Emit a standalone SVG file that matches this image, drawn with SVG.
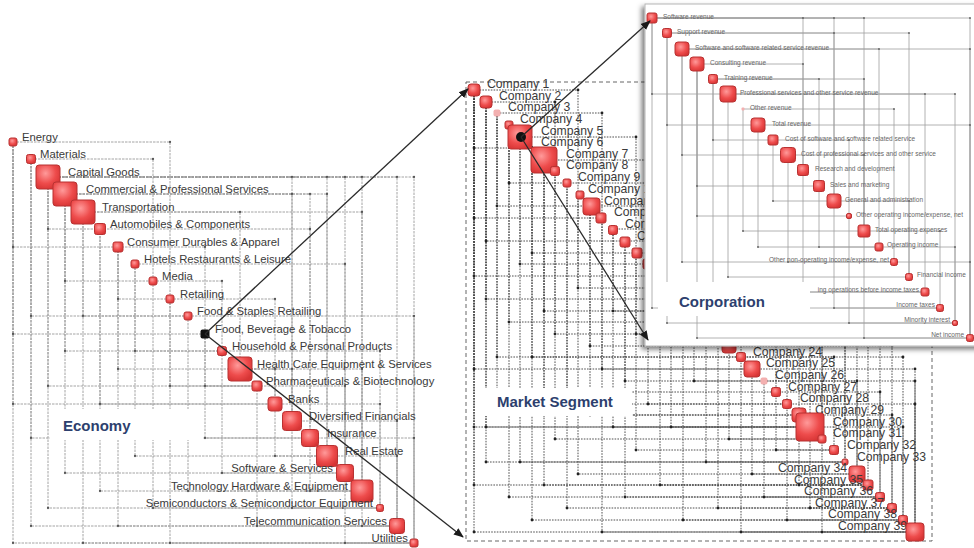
<svg xmlns="http://www.w3.org/2000/svg" width="974" height="548" viewBox="0 0 974 548">
<defs>
<style>
text{font-family:"Liberation Sans",Arial,sans-serif}
.le{font-size:11.3px;fill:#3a3a3a}
.me{font-size:12.2px;fill:#3a3a3a}
.re{font-size:6.5px;fill:#666}
.ttl{font-size:15px;font-weight:bold;fill:#2d3f6e}
.end{text-anchor:end}
.n{fill:url(#rg);stroke:#b83232;stroke-width:1}
.p{fill:#f3b0b0;stroke:none}
.gl{fill:none;stroke:#9a9a9a;stroke-width:0.9;stroke-dasharray:2.5 1;marker-start:url(#d1);marker-mid:url(#d1);marker-end:url(#d1)}
.gm{fill:none;stroke:#3c3c3c;stroke-width:0.9;stroke-dasharray:1.6 1.2;marker-start:url(#d2);marker-mid:url(#d2);marker-end:url(#d2)}
.gr{fill:none;stroke:#a0a0a0;stroke-width:0.8;marker-start:url(#d3);marker-mid:url(#d3);marker-end:url(#d3)}
.ar{fill:none;stroke:#2a2a2a;stroke-width:1.3;marker-end:url(#ah)}
</style>
<radialGradient id="rg" cx="40%" cy="35%" r="70%">
<stop offset="0" stop-color="#ff9a9a"/>
<stop offset="0.6" stop-color="#ee4c4c"/>
<stop offset="1" stop-color="#d63434"/>
</radialGradient>
<marker id="d1" viewBox="-2 -2 4 4" markerWidth="3.5" markerHeight="3.5" markerUnits="userSpaceOnUse"><circle r="1.3" fill="#555"/></marker>
<marker id="d2" viewBox="-2 -2 4 4" markerWidth="4" markerHeight="4" markerUnits="userSpaceOnUse"><circle r="1.4" fill="#222"/></marker>
<marker id="d3" viewBox="-2 -2 4 4" markerWidth="3" markerHeight="3" markerUnits="userSpaceOnUse"><circle r="1.3" fill="#666"/></marker>
<marker id="ah" viewBox="0 0 10 10" refX="9" refY="5" markerWidth="10" markerHeight="10" markerUnits="userSpaceOnUse" orient="auto"><path d="M0,1 L10,5 L0,9 z" fill="#1a1a1a"/></marker>
<filter id="sh" x="-10%" y="-10%" width="125%" height="125%"><feDropShadow dx="-3" dy="3" stdDeviation="2.5" flood-color="#000" flood-opacity="0.5"/></filter>
</defs>
<rect width="974" height="548" fill="#fff"/>

<!-- ECONOMY PANEL -->
<g id="economy-grid">
<path class="gl" d="M13 142H170V299M31 159H153V281M48 177H292V421M48 177H327V456M48 177H345V473M48 177H362V491M48 177H397V526M48 177H414V543M65 194H292V421M65 194H310V438M65 194H327V456M83 212H240V369M83 212H362V491M100 229H310V438M135 264H345V473M153 281H222V351M188 316H414V543M222 351H380V508M240 369H275V404M240 369H292V421M240 369H362V491M275 404H380V508M292 421H397V526M310 438H414V543M327 456H397V526M257 386H345V473M118 247H205V334M170 299H275V404"/>
<path class="gl" d="M13 142V543H414M13 142V247H118M13 142V334H205M13 142V404H275M31 159V526H397M31 159V316H188M31 159V438H310M48 177V229H100M48 177V386H257M48 177V508H380M65 194V473H345M65 194V351H222M83 212V316H188M83 212V543H414M100 229V491H362M100 229V404H275M118 247V526H397M118 247V369H240M135 264V456H327M153 281V508H380M170 299V386H257M170 299V543H414M188 316V491H362M205 334V438H310M222 351V473H345M257 386V526H397M275 404V456H327M292 421V508H380M345 473V543H414M362 491V526H397M310 438V491H362M205 334V386H257M118 247V299H170M65 194V281H153M135 264V351H222"/>
</g>
<g id="economy-label">
<rect x="50" y="409" width="153" height="31" fill="#fff"/>
<text class="ttl" x="63" y="431">Economy</text>
</g>
<g id="e0"><text class="le" x="22" y="141">Energy</text><rect class="n" x="9" y="138" width="8" height="8" rx="2"/></g>
<g id="e1"><text class="le" x="40" y="158">Materials</text><rect class="n" x="26.5" y="154.5" width="9" height="9" rx="2"/></g>
<g id="e2"><text class="le" x="68" y="176">Capital Goods</text><rect class="n" x="36" y="165" width="24" height="24" rx="3"/></g>
<g id="e3"><text class="le" x="86" y="193">Commercial &amp; Professional Services</text><rect class="n" x="53" y="182" width="24" height="24" rx="3"/></g>
<g id="e4"><text class="le" x="102" y="211">Transportation</text><rect class="n" x="71" y="200" width="24" height="24" rx="3"/></g>
<g id="e5"><text class="le" x="110" y="228">Automobiles &amp; Components</text><rect class="n" x="94.5" y="223.5" width="11" height="11" rx="2"/></g>
<g id="e6"><text class="le" x="127" y="246">Consumer Durables &amp; Apparel</text><rect class="n" x="113" y="242" width="10" height="10" rx="2"/></g>
<g id="e7"><text class="le" x="144" y="263">Hotels Restaurants &amp; Leisure</text><rect class="n" x="131" y="260" width="8" height="8" rx="2"/></g>
<g id="e8"><text class="le" x="162" y="280">Media</text><rect class="n" x="149" y="277" width="8" height="8" rx="2"/></g>
<g id="e9"><text class="le" x="180" y="298">Retailing</text><rect class="n" x="166" y="295" width="8" height="8" rx="2"/></g>
<g id="e10"><text class="le" x="197" y="315">Food &amp; Staples Retailing</text><rect class="n" x="184" y="312" width="8" height="8" rx="2"/></g>
<g id="e11"><text class="le" x="215" y="333">Food, Beverage &amp; Tobacco</text><rect x="200.5" y="329.5" width="9" height="9" rx="2" fill="#111"/></g>
<g id="e12"><text class="le" x="232" y="350">Household &amp; Personal Products</text><rect class="n" x="217.5" y="346.5" width="9" height="9" rx="2"/></g>
<g id="e13"><text class="le" x="257" y="368">Health Care Equipment &amp; Services</text><rect class="n" x="228" y="357" width="24" height="24" rx="3"/></g>
<g id="e14"><text class="le" x="266" y="385">Pharmaceuticals &amp; Biotechnology</text><rect class="n" x="252" y="381" width="10" height="10" rx="2"/></g>
<g id="e15"><text class="le" x="288" y="403">Banks</text><rect class="n" x="268" y="397" width="14" height="14" rx="3"/></g>
<g id="e16"><text class="le" x="309" y="420">Diversified Financials</text><rect class="n" x="282.5" y="411.5" width="19" height="19" rx="3"/></g>
<g id="e17"><text class="le" x="327" y="437">Insurance</text><rect class="n" x="301.5" y="429.5" width="17" height="17" rx="3"/></g>
<g id="e18"><text class="le" x="345" y="455">Real Estate</text><rect class="n" x="316.5" y="445.5" width="21" height="21" rx="3"/></g>
<g id="e19"><text class="le end" x="333" y="472">Software &amp; Services</text><rect class="n" x="336.5" y="464.5" width="17" height="17" rx="3"/></g>
<g id="e20"><text class="le end" x="348" y="490">Technology Hardware &amp; Equipment</text><rect class="n" x="351" y="480" width="22" height="22" rx="3"/></g>
<g id="e21"><text class="le end" x="373" y="507">Semiconductors &amp; Semiconductor Equipment</text><rect class="n" x="376.5" y="504.5" width="7" height="7" rx="2"/></g>
<g id="e22"><text class="le end" x="387" y="525">Telecommunication Services</text><rect class="n" x="389.5" y="518.5" width="15" height="15" rx="3"/></g>
<g id="e23"><text class="le end" x="408" y="542">Utilities</text><rect class="n" x="410" y="539" width="8" height="8" rx="2"/></g>

<!-- MARKET SEGMENT PANEL -->
<g id="market-frame"><rect x="466" y="82" width="466" height="459" fill="none" stroke="#666" stroke-width="1" stroke-dasharray="4 3"/></g>
<g id="market-grid">
<path class="gm" d="M474 90V532H915M474 90V276H660M474 90V369H752M486 102V427H810M486 102V299H683M497 113V404H787M509 125V497H880M509 125V322H706M520 137V462H845M520 137V264H648M532 148V357H741M532 148V520H903M544 160V311H694M544 160V485H868M555 171V334H718M555 171V439H822M567 183V392H776M567 183V508H892M578 195V288H671M578 195V474H857M590 206V346H729M590 206V415H799M602 218V369H752M602 218V532H915M613 229V427H810M613 229V311H694M625 241V381H764M625 241V497H880M636 253V450H834M636 253V334H718M648 264V404H787M660 276V485H868M671 288V427H810M683 299V520H903M694 311V381H764M706 322V462H845M718 334V508H892M729 346V439H822M741 357V532H915M752 369V474H857M764 381V497H880M776 392V450H834M787 404V520H903M799 415V485H868M810 427V508H892M822 439V532H915M486 102V241H625M497 113V206H590M509 125V183H567M474 90V148H532M532 148V253H636M474 90V218H602M497 113V357H741M544 160V415H799M474 90V427H810M474 90V485H868M486 102V462H845"/>
<path class="gm" d="M474 90H578V195M486 102H555V171M497 113H602V218M520 137H636V253M544 160H671V288M567 183H694V311M590 206H741V357M613 229H776V392M648 264H799V415M683 299H845V462M694 311H868V485M718 334H880V497M729 346H892V508M741 357H903V520M752 369H915V532M764 381H857V474M776 392H880V497M706 322H822V439M787 404H915V532M799 415H892V508M810 427H903V520M660 276H810V427M671 288H857V474M625 241H787V404M636 253H822V439M729 346H845V462M741 357H834V450M764 381H915V532"/>
</g>
<g id="market-label">
<rect x="480" y="388" width="152" height="28" fill="#fff"/>
<text class="ttl" x="497" y="407">Market Segment</text>
</g>
<g id="c1"><text class="me" x="487" y="88">Company 1</text><rect class="n" x="468" y="84" width="12" height="12" rx="3"/></g>
<g id="c2"><text class="me" x="499" y="100">Company 2</text><rect class="n" x="480" y="96" width="12" height="12" rx="3"/></g>
<g id="c3"><text class="me" x="508" y="111">Company 3</text><rect class="p" x="493.5" y="109.5" width="7" height="7" rx="2"/></g>
<g id="c4"><text class="me" x="520" y="123">Company 4</text><rect class="n" x="505" y="121" width="8" height="8" rx="2"/></g>
<g id="c6"><text class="me" x="541" y="146">Company 6</text></g>
<g id="c5"><text class="me" x="541" y="135">Company 5</text><rect class="n" x="508" y="125" width="24" height="24" rx="3"/></g>
<g id="c7"><text class="me" x="566" y="158">Company 7</text><rect class="n" x="531" y="147" width="26" height="26" rx="3"/></g>
<g id="c8"><text class="me" x="566" y="169">Company 8</text><rect class="n" x="550.5" y="166.5" width="9" height="9" rx="2"/></g>
<g id="c9"><text class="me" x="578" y="181">Company 9</text><rect class="n" x="563" y="179" width="8" height="8" rx="2"/></g>
<g id="c10"><text class="me" x="588" y="193">Company 10</text><rect class="n" x="576" y="191" width="8" height="8" rx="2"/></g>
<g id="c11"><text class="me" x="604" y="205">Company 11</text><rect class="n" x="583" y="198" width="17" height="17" rx="3"/></g>
<g id="c12"><text class="me" x="614" y="216">Company 12</text><rect class="n" x="596" y="213" width="10" height="10" rx="2"/></g>
<g id="c13"><text class="me" x="625" y="228">Company 13</text><rect class="n" x="608.5" y="225.5" width="9" height="9" rx="2"/></g>
<g id="c14"><text class="me" x="637" y="240">Company 14</text><rect class="n" x="620" y="237" width="10" height="10" rx="2"/></g>
<g id="c15"><rect class="n" x="632" y="248" width="10" height="10" rx="2"/></g>
<g id="c16"><rect class="n" x="643" y="259" width="10" height="10" rx="2"/></g>
<g id="c23"><rect class="n" x="722" y="339" width="14" height="14" rx="3"/></g>
<g id="c24"><text class="me" x="753" y="356">Company 24</text><rect class="n" x="736.5" y="352.5" width="9" height="9" rx="2"/></g>
<g id="c25"><text class="me" x="766" y="367">Company 25</text><rect class="n" x="744" y="361" width="16" height="16" rx="3"/></g>
<g id="c26"><text class="me" x="775" y="379">Company 26</text><rect class="p" x="760.5" y="377.5" width="7" height="7" rx="2"/></g>
<g id="c27"><text class="me" x="788" y="391">Company 27</text><rect class="n" x="771.5" y="387.5" width="9" height="9" rx="2"/></g>
<g id="c28"><text class="me" x="800" y="402">Company 28</text><rect class="n" x="782.5" y="399.5" width="9" height="9" rx="2"/></g>
<g id="c29"><text class="me" x="815" y="414">Company 29</text><rect class="n" x="792" y="408" width="14" height="14" rx="3"/></g>
<g id="c30"><text class="me" x="833" y="426">Company 30</text><rect class="n" x="796" y="413" width="28" height="28" rx="3"/></g>
<g id="c31"><text class="me" x="833" y="437">Company 31</text><rect class="n" x="818" y="435" width="8" height="8" rx="2"/></g>
<g id="c32"><text class="me" x="847" y="449">Company 32</text><rect class="n" x="829.5" y="445.5" width="9" height="9" rx="2"/></g>
<g id="c33"><text class="me" x="857" y="461">Company 33</text><rect class="n" x="842" y="459" width="6" height="6" rx="2"/></g>
<g id="c34"><text class="me end" x="847" y="472">Company 34</text><rect class="n" x="849" y="466" width="16" height="16" rx="3"/></g>
<g id="c35"><text class="me end" x="863" y="484">Company 35</text><rect class="n" x="863" y="480" width="10" height="10" rx="2"/></g>
<g id="c36"><text class="me end" x="873" y="495">Company 36</text><rect class="n" x="875.5" y="492.5" width="9" height="9" rx="2"/></g>
<g id="c37"><text class="me end" x="884" y="507">Company 37</text><rect class="n" x="887.5" y="503.5" width="9" height="9" rx="2"/></g>
<g id="c38"><text class="me end" x="897" y="518">Company 38</text><rect class="n" x="898.5" y="515.5" width="9" height="9" rx="2"/></g>
<g id="c39"><text class="me end" x="907" y="530">Company 39</text><rect class="n" x="906" y="523" width="18" height="18" rx="3"/></g>
<circle cx="521" cy="137" r="5" fill="#111"/>

<!-- CORPORATION PANEL -->
<g id="corporation-panel"><rect x="645" y="4" width="340" height="342" fill="#fff" stroke="#b5b5b5" stroke-width="1" filter="url(#sh)"/></g>
<g id="corporation-grid">
<path class="gr" d="M652 18H803V170M652 18H834V201M652 18H864V231M652 18H970V338M667 33H909V277M667 33H834V201M682 49H970V338M697 64H803V170M713 79H819V186M728 94H925V292M728 94H955V323M758 125H970V338M773 140H849V216M788 155H864V231M834 201H909V277M864 231H940V308M879 247H955V323M894 262H970V338M682 49H879V247M713 79H864V231M743 109H894V262"/>
<path class="gr" d="M652 18V308H940M667 33V323H955M682 49V262H894M697 64V216H849M713 79V292H925M728 94V277H909M758 125V247H879M773 140V201H834M788 155V262H894M803 170V292H925M819 186V247H879M667 33V125H758M682 49V155H788M697 64V186H819M713 79V140H773M743 109V231H864M652 18V94H728M834 201V308H940M849 216V323H955M864 231V338H970M697 64V338H970"/>
</g>
<g id="corporation-label">
<rect x="658" y="282" width="152" height="34" fill="#fff"/>
<text class="ttl" x="679" y="307">Corporation</text>
</g>
<g id="r0"><text class="re" x="663" y="19">Software revenue</text><rect class="n" x="647" y="13" width="10" height="10" rx="2"/></g>
<g id="r1"><text class="re" x="677" y="34">Support revenue</text><rect class="n" x="662.5" y="28.5" width="9" height="9" rx="2"/></g>
<g id="r2"><text class="re" x="695" y="50">Software and software related service revenue</text><rect class="n" x="675" y="42" width="14" height="14" rx="3"/></g>
<g id="r3"><text class="re" x="710" y="65">Consulting revenue</text><rect class="n" x="690" y="57" width="14" height="14" rx="3"/></g>
<g id="r4"><text class="re" x="724" y="80">Training revenue</text><rect class="n" x="708.5" y="74.5" width="9" height="9" rx="2"/></g>
<g id="r5"><text class="re" x="740" y="95">Professional services and other service revenue</text><rect class="n" x="720" y="86" width="16" height="16" rx="3"/></g>
<g id="r6"><text class="re" x="750" y="110">Other revenue</text><rect class="p" x="741.5" y="107.5" width="3" height="3" rx="1"/></g>
<g id="r7"><text class="re" x="772" y="126">Total revenue</text><rect class="n" x="751" y="118" width="14" height="14" rx="3"/></g>
<g id="r8"><text class="re" x="785" y="141">Cost of software and software related service</text><rect class="n" x="768" y="135" width="10" height="10" rx="2"/></g>
<g id="r9"><text class="re" x="801" y="156">Cost of professional services and other service</text><rect class="n" x="780.5" y="147.5" width="15" height="15" rx="3"/></g>
<g id="r10"><text class="re" x="815" y="171">Research and development</text><rect class="n" x="797.5" y="164.5" width="11" height="11" rx="2"/></g>
<g id="r11"><text class="re" x="830" y="187">Sales and marketing</text><rect class="n" x="813.5" y="180.5" width="11" height="11" rx="2"/></g>
<g id="r12"><text class="re" x="845" y="202">General and administration</text><rect class="n" x="827" y="194" width="14" height="14" rx="3"/></g>
<g id="r13"><text class="re" x="856" y="217">Other operating income/expense, net</text><rect class="n" x="846.5" y="213.5" width="5" height="5" rx="1.5"/></g>
<g id="r14"><text class="re" x="875" y="232">Total operating expenses</text><rect class="n" x="858" y="225" width="12" height="12" rx="2"/></g>
<g id="r15"><text class="re" x="887" y="247">Operating income</text><rect class="n" x="875" y="243" width="8" height="8" rx="2"/></g>
<g id="r16"><text class="re end" x="889" y="262">Other non-operating income/expense, net</text><rect class="n" x="890.5" y="258.5" width="7" height="7" rx="2"/></g>
<g id="r17"><text class="re" x="917" y="277">Financial income</text><rect class="n" x="905.5" y="273.5" width="7" height="7" rx="2"/></g>
<g id="r18"><text class="re end" x="919" y="292">ing operations before income taxes</text><rect class="n" x="921" y="288" width="8" height="8" rx="2"/></g>
<g id="r19"><text class="re end" x="935" y="307">Income taxes</text><rect class="n" x="936.5" y="304.5" width="7" height="7" rx="2"/></g>
<g id="r20"><text class="re end" x="950" y="322">Minority interest</text><rect class="n" x="952.5" y="320.5" width="5" height="5" rx="1.5"/></g>
<g id="r21"><text class="re end" x="964" y="337">Net income</text><rect class="n" x="966.5" y="334.5" width="7" height="7" rx="2"/></g>

<!-- CONNECTORS -->
<g id="connectors">
<path class="ar" d="M205 334L468 89"/>
<path class="ar" d="M205 334L463 537"/>
<path class="ar" d="M521 137L650 21"/>
<path class="ar" d="M521 137L648 340"/>
</g>
</svg>
